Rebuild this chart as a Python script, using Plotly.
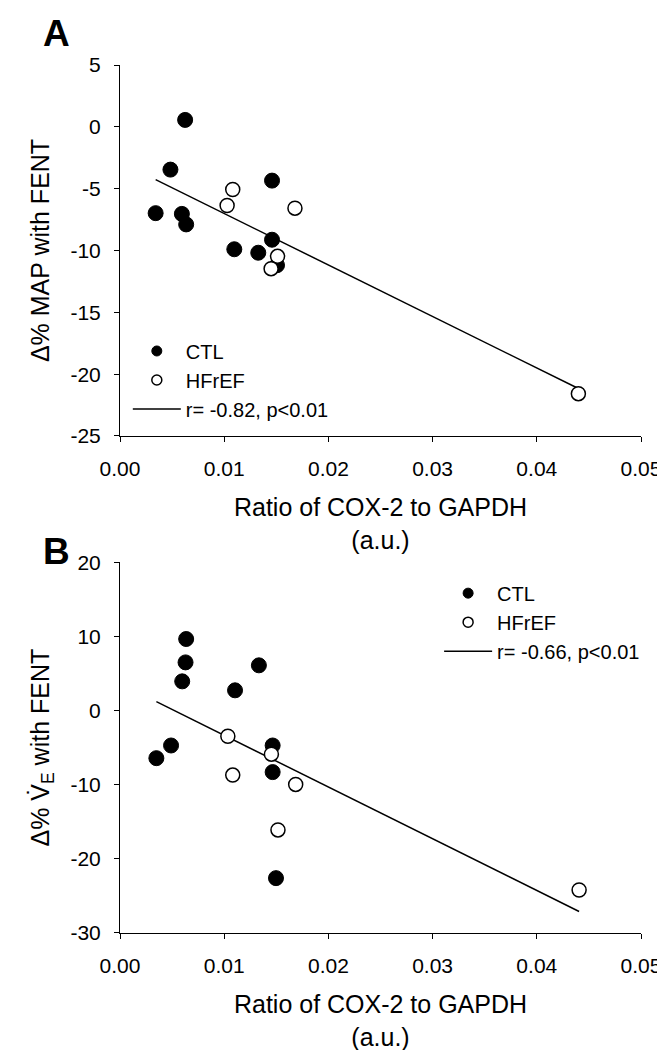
import plotly.graph_objects as go

# Panel A: change in MAP with FENT vs COX-2/GAPDH
ctl_a_x = [0.00625, 0.00484, 0.01459, 0.00342, 0.00594, 0.00635, 0.01459, 0.01097, 0.01327, 0.01507]
ctl_a_y = [0.56, -3.46, -4.35, -6.98, -7.04, -7.89, -9.13, -9.90, -10.18, -11.19]
hf_a_x = [0.01082, 0.01028, 0.01679, 0.01512, 0.01450, 0.04399]
hf_a_y = [-5.07, -6.36, -6.58, -10.47, -11.47, -21.58]
fit_a_x = [0.00342, 0.04399]
fit_a_y = [-4.27, -21.16]

# Panel B: change in VE with FENT vs COX-2/GAPDH
ctl_b_x = [0.00635, 0.00629, 0.00597, 0.01333, 0.01104, 0.00490, 0.00349, 0.01465, 0.01465, 0.01497]
ctl_b_y = [9.65, 6.50, 3.94, 6.10, 2.73, -4.71, -6.42, -4.71, -8.30, -22.60]
hf_b_x = [0.01035, 0.01453, 0.01082, 0.01686, 0.01516, 0.04406]
hf_b_y = [-3.46, -5.88, -8.70, -9.96, -16.10, -24.20]
fit_b_x = [0.00349, 0.04406]
fit_b_y = [1.21, -27.10]

x_ticks = [0.00, 0.01, 0.02, 0.03, 0.04, 0.05]
y_a_ticks = [5, 0, -5, -10, -15, -20, -25]
y_b_ticks = [20, 10, 0, -10, -20, -30]

FONT = "Arial, Liberation Sans, sans-serif"

fig = go.Figure()


def add_panel(fig, ctl_x, ctl_y, hf_x, hf_y, fit_x, fit_y, r_label, xa, ya, legend):
    ctl_marker = dict(color="black", line=dict(color="black", width=1))
    hf_marker = dict(color="white", line=dict(color="black", width=1.5))

    fig.add_trace(go.Scatter(
        x=fit_x, y=fit_y, mode="lines", name=r_label,
        line=dict(color="black", width=1.5),
        xaxis=xa, yaxis=ya, legend=legend, legendrank=3,
    ))
    fig.add_trace(go.Scatter(
        x=ctl_x, y=ctl_y, mode="markers", name="CTL", showlegend=False,
        marker=dict(ctl_marker, size=15), xaxis=xa, yaxis=ya,
    ))
    fig.add_trace(go.Scatter(
        x=hf_x, y=hf_y, mode="markers", name="HFrEF", showlegend=False,
        marker=dict(hf_marker, size=14), xaxis=xa, yaxis=ya,
    ))
    # smaller symbols for the legend, as in the original figure
    fig.add_trace(go.Scatter(
        x=[None], y=[None], mode="markers", name="CTL",
        marker=dict(ctl_marker, size=10), xaxis=xa, yaxis=ya,
        legend=legend, legendrank=1,
    ))
    fig.add_trace(go.Scatter(
        x=[None], y=[None], mode="markers", name="HFrEF",
        marker=dict(hf_marker, size=10), xaxis=xa, yaxis=ya,
        legend=legend, legendrank=2,
    ))


add_panel(fig, ctl_a_x, ctl_a_y, hf_a_x, hf_a_y, fit_a_x, fit_a_y,
          "r= -0.82, p<0.01", "x", "y", "legend")
add_panel(fig, ctl_b_x, ctl_b_y, hf_b_x, hf_b_y, fit_b_x, fit_b_y,
          "r= -0.66, p<0.01", "x2", "y2", "legend2")

axis_common = dict(
    showline=True, linecolor="black", linewidth=1,
    ticks="outside", ticklen=5, tickwidth=1, tickcolor="black",
    showgrid=False, zeroline=False,
    tickfont=dict(family=FONT, size=21, color="black"),
    ticklabelstandoff=9,
)
x_title = dict(text="Ratio of COX-2 to GAPDH<br>(a.u.)",
               font=dict(family=FONT, size=25, color="black"), standoff=19)
legend_common = dict(xanchor="left", yanchor="top", bgcolor="rgba(0,0,0,0)",
                     itemwidth=48, tracegroupgap=0,
                     font=dict(family=FONT, size=20, color="black"))

fig.update_layout(
    width=665, height=1050,
    margin=dict(l=112, r=23, t=57, b=122),
    paper_bgcolor="white", plot_bgcolor="white",
    xaxis=dict(axis_common, domain=[0, 1], anchor="y", range=[0, 0.05],
               tickvals=x_ticks, tickformat=".2f", title=x_title),
    yaxis=dict(axis_common, domain=[0.5726, 1], anchor="x", range=[-25, 5],
               tickvals=y_a_ticks, ticktext=[str(v) for v in y_a_ticks],
               title=dict(text="Δ% MAP with FENT",
                          font=dict(family=FONT, size=25, color="black"), standoff=13)),
    xaxis2=dict(axis_common, domain=[0, 1], anchor="y2", range=[0, 0.05],
                tickvals=x_ticks, tickformat=".2f", title=x_title),
    yaxis2=dict(axis_common, domain=[0, 0.4271], anchor="x2", range=[-30, 20],
                tickvals=y_b_ticks, ticktext=[str(v) for v in y_b_ticks],
                title=dict(text="Δ% V\u0307<sub>E</sub> with FENT",
                           font=dict(family=FONT, size=25, color="black"), standoff=13)),
    legend=dict(legend_common, x=0.015, y=0.693),
    legend2=dict(legend_common, x=0.6125, y=0.414),
    showlegend=True,
    annotations=[
        dict(text="<b>A</b>", x=-0.1226, y=1.062, xref="paper", yref="paper",
             xanchor="center", yanchor="top", showarrow=False,
             font=dict(family=FONT, size=37, color="black")),
        dict(text="<b>B</b>", x=-0.1226, y=0.4397, xref="paper", yref="paper",
             xanchor="center", yanchor="middle", showarrow=False,
             font=dict(family=FONT, size=37, color="black")),
    ],
)

fig.write_html("out.html")
